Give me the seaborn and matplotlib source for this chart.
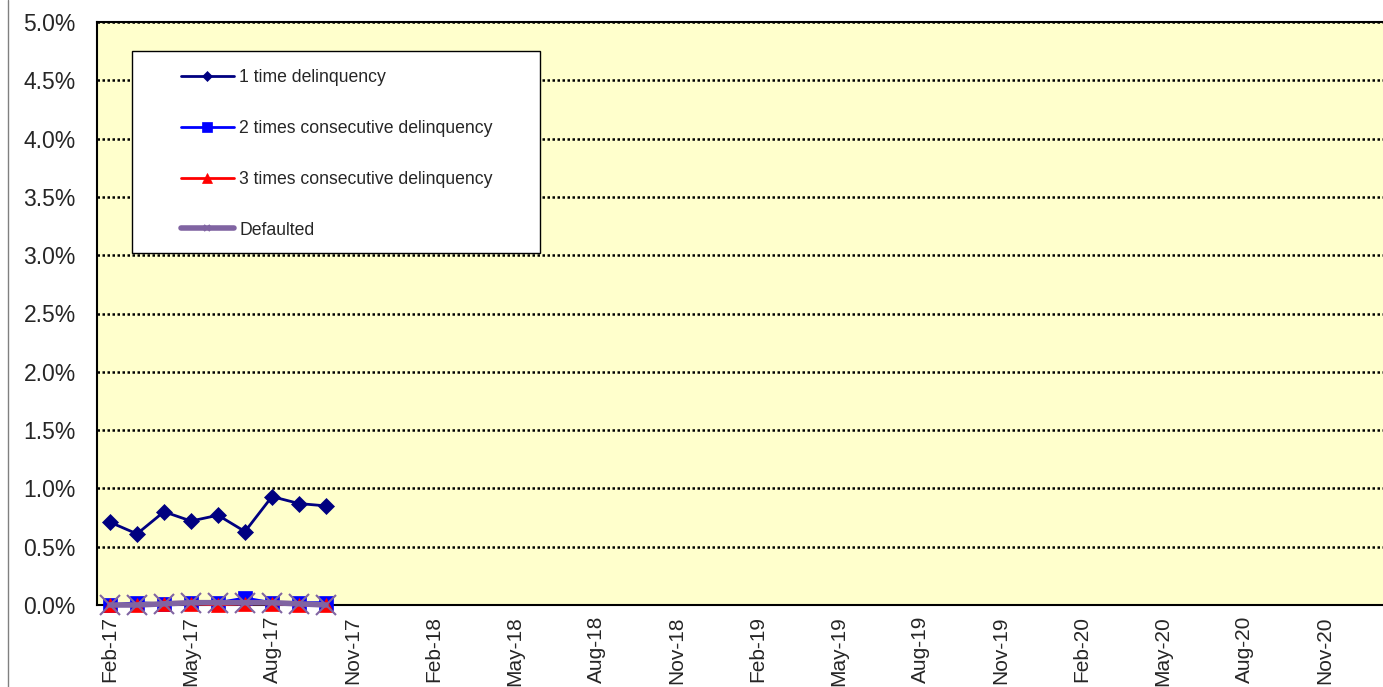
"""
morosidad.py
------------
Evolución mensual de la morosidad de la cartera (estilo gráfico de Excel).
"""

import matplotlib
matplotlib.use("Agg")
import matplotlib.pyplot as plt
import seaborn as sns
import pandas as pd
from matplotlib.patches import Rectangle
from matplotlib.lines import Line2D
from matplotlib.ticker import PercentFormatter, MultipleLocator

# eje de categorías: un mes por categoría, Feb-17 a Jan-21
meses = pd.period_range("2017-02", "2021-01", freq="M")
etiquetas_meses = [m.strftime("%b-%y") for m in meses]

# datos (en %)
meses_datos = ["Feb-17", "Mar-17", "Apr-17", "May-17", "Jun-17",
               "Jul-17", "Aug-17", "Sep-17", "Oct-17"]
una_vez = [0.71, 0.61, 0.80, 0.72, 0.77, 0.63, 0.93, 0.87, 0.85]
dos_veces = [0.00, 0.02, 0.01, 0.02, 0.02, 0.06, 0.02, 0.02, 0.02]
tres_veces = [0.00, 0.00, 0.01, 0.01, 0.00, 0.01, 0.01, 0.00, 0.00]
incumplido = [0.00, 0.00, 0.01, 0.02, 0.02, 0.02, 0.02, 0.01, 0.00]

# nombre, valores, color, marcador, tamaño en gráfico, tamaño en leyenda, grosor
series = [
    ("1 time delinquency", una_vez, "#000080", "D", 8, 5, 2.0),
    ("2 times consecutive delinquency", dos_veces, "#0000FF", "s", 9.5, 6.5, 2.0),
    ("3 times consecutive delinquency", tres_veces, "#FF0000", "^", 10, 6.5, 2.0),
    ("Defaulted", incumplido, "#8064A2", "x", 14, 5, 4.0),
]

W, H = 1383, 687
sns.set_style("white")
plt.rcParams["font.family"] = ["Liberation Sans", "DejaVu Sans"]

fig = plt.figure(figsize=(W / 100, H / 100), dpi=100)
ax = fig.add_axes([96.5 / W, 1 - 605 / H, (1392.5 - 96.5) / W, (605 - 22) / H])
ax.set_facecolor("#FFFFCC")

pos = [etiquetas_meses.index(m) for m in meses_datos]
for nombre, valores, color, marcador, tam, _, grosor in series:
    sns.lineplot(x=pos, y=valores, ax=ax, color=color, marker=marcador,
                 markersize=tam, linewidth=grosor, label=nombre,
                 markeredgecolor=color, markeredgewidth=1.5 if marcador == "x" else 0.5,
                 clip_on=False, zorder=3, legend=False)

ax.set_xlim(-0.5, len(meses) - 0.5)
ax.set_ylim(0, 5)
ax.yaxis.set_major_locator(MultipleLocator(0.5))
ax.yaxis.set_major_formatter(PercentFormatter(xmax=100, decimals=1))
ax.set_xticks(range(0, len(meses), 3))
ax.set_xticklabels(etiquetas_meses[::3], rotation=90)
ax.tick_params(axis="y", length=0, pad=15, labelsize=16.5)
ax.tick_params(axis="x", length=0, pad=8, labelsize=15)

ax.grid(axis="y", color="black", linestyle=(0, (1, 1)), linewidth=1.8)
ax.set_axisbelow(True)
for lado in ax.spines.values():
    lado.set_color("black")
    lado.set_linewidth(1.5)

# cuadro de la leyenda
fig.add_artist(Rectangle((132 / W, 1 - 253 / H), 408 / W, 202 / H,
                         transform=fig.transFigure, facecolor="white",
                         edgecolor="black", linewidth=1, zorder=4))
manejadores, textos = ax.get_legend_handles_labels()
leyenda = fig.legend(manejadores, textos, loc="upper left",
                     bbox_to_anchor=(181 / W, 1 - 69 / H), frameon=False,
                     fontsize=12.7, handlelength=3.0,
                     handletextpad=0.3, labelspacing=1.92, borderpad=0,
                     borderaxespad=0)
for h, s in zip(leyenda.legend_handles, series):
    h.set_markersize(s[5])

# borde del área del gráfico
fig.add_artist(Line2D([7.5 / W, 7.5 / W], [0, 1], color="#808080", linewidth=1))

fig.savefig("out.png", dpi=100)
